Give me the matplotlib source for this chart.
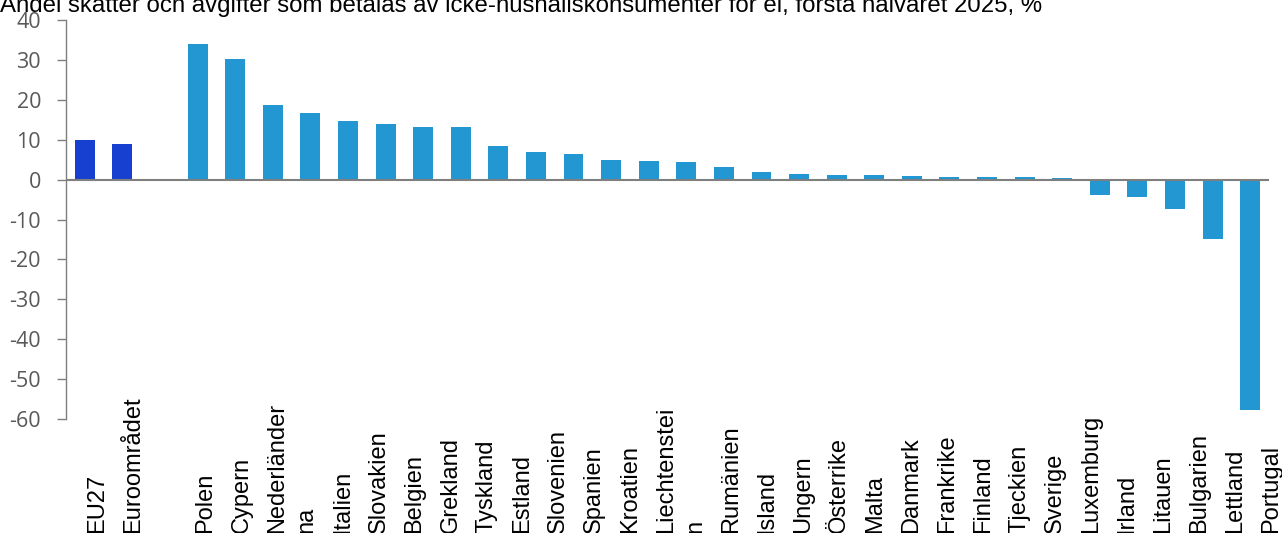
import matplotlib
matplotlib.use("Agg")
import matplotlib.pyplot as plt
from matplotlib import transforms
from matplotlib.font_manager import FontProperties
import numpy as np

# ---- data -------------------------------------------------------------
title = ("Andel skatter och avgifter som betalas av icke-hushållskonsumenter "
         "för el, första halvåret 2025, %")

aggregates = ["EU27", "Euroområdet"]
aggregate_values = [9.85, 8.9]

countries = [
    "Polen", "Cypern", "Nederländerna", "Italien", "Slovakien", "Belgien",
    "Grekland", "Tyskland", "Estland", "Slovenien", "Spanien", "Kroatien",
    "Liechtenstein", "Rumänien", "Island", "Ungern", "Österrike", "Malta",
    "Danmark", "Frankrike", "Finland", "Tjeckien", "Sverige", "Luxemburg",
    "Irland", "Litauen", "Bulgarien", "Lettland", "Portugal",
]
country_values = [
    34.0, 30.2, 18.6, 16.7, 14.8, 14.0,
    13.3, 13.1, 8.4, 7.0, 6.3, 4.9,
    4.6, 4.4, 3.1, 2.0, 1.5, 1.05,
    1.05, 0.8, 0.55, 0.55, 0.55, 0.3,
    -3.85, -4.35, -7.3, -15.0, -57.7,
]

y_ticks = [40, 30, 20, 10, 0, -10, -20, -30, -40, -50, -60]

# ---- style ------------------------------------------------------------
AGG_COLOR = "#1740D0"
CTY_COLOR = "#2397D2"
AXIS_COLOR = "#7F7F7F"
TICK_TEXT = "#595959"
BAR_WIDTH = 0.53

W, H, DPI = 1282, 533, 100
fig = plt.figure(figsize=(W / DPI, H / DPI), dpi=DPI)
fig.patch.set_facecolor("white")
ax = fig.add_axes([66 / W, (H - 419) / H, (1269 - 66) / W, (419 - 20) / H])

x_agg = np.arange(len(aggregates))
x_cty = np.arange(len(countries)) + len(aggregates) + 1   # one empty slot between groups
n_slots = len(aggregates) + 1 + len(countries)

ax.bar(x_agg, aggregate_values, width=BAR_WIDTH, color=AGG_COLOR, zorder=2)
ax.bar(x_cty, country_values, width=BAR_WIDTH, color=CTY_COLOR, zorder=2)

ax.set_xlim(-0.5, n_slots - 0.5)
ax.set_ylim(-60, 40)
ax.set_yticks(y_ticks)
ax.set_yticklabels([str(v) for v in y_ticks])
ax.axhline(0, color=AXIS_COLOR, lw=1.5, zorder=3)

for side in ("top", "right", "bottom"):
    ax.spines[side].set_visible(False)
ax.spines["left"].set_color(AXIS_COLOR)
ax.spines["left"].set_linewidth(1.0)

ax.tick_params(axis="x", bottom=False, labelbottom=False)
ax.tick_params(axis="y", direction="out", length=6.5, width=1.0, color=AXIS_COLOR,
               pad=11.5, labelsize=15.5, labelcolor=TICK_TEXT)
for lab in ax.get_yticklabels():
    lab.set_fontfamily("Open Sans")

# ---- title ------------------------------------------------------------
fig.text(0.5 / W, 1 - 12 / H, title, ha="left", va="baseline",
         fontsize=17.3, family="Liberation Sans", color="black")

# ---- category labels ---------------------------------------------------
# Labels are set vertically from the bottom edge; names too long for the
# label band wrap onto a second column.  The columns flow at their own pitch.
LABEL_SIZE = 17
label_font = FontProperties(family="Liberation Sans", size=LABEL_SIZE)
renderer = fig.canvas.get_renderer()
max_len_px = 5.835 * LABEL_SIZE * DPI / 72


def text_px(s):
    w, _, _ = renderer.get_text_width_height_descent(s, label_font, ismath=False)
    return w


def wrap(name):
    lines = []
    rest = name
    while rest:
        cut = len(rest)
        while cut > 1 and text_px(rest[:cut]) > max_len_px:
            cut -= 1
        lines.append(rest[:cut])
        rest = rest[cut:]
    return lines


LABEL_START = 0.34     # slot units
LABEL_PITCH = 0.957
LINE_PITCH = 0.773

slot_labels = aggregates + [""] + countries
trans = transforms.blended_transform_factory(ax.transData, fig.transFigure)
pos = LABEL_START
for name in slot_labels:
    lines = wrap(name) if name else [""]
    for i, line in enumerate(lines):
        if line:
            ax.text(pos + i * LINE_PITCH, 0.0, line, transform=trans,
                    rotation=90, ha="center", va="bottom",
                    fontproperties=label_font, color="black", clip_on=False)
    pos += (len(lines) - 1) * LINE_PITCH + LABEL_PITCH

fig.savefig("out.png", dpi=DPI, facecolor="white")
